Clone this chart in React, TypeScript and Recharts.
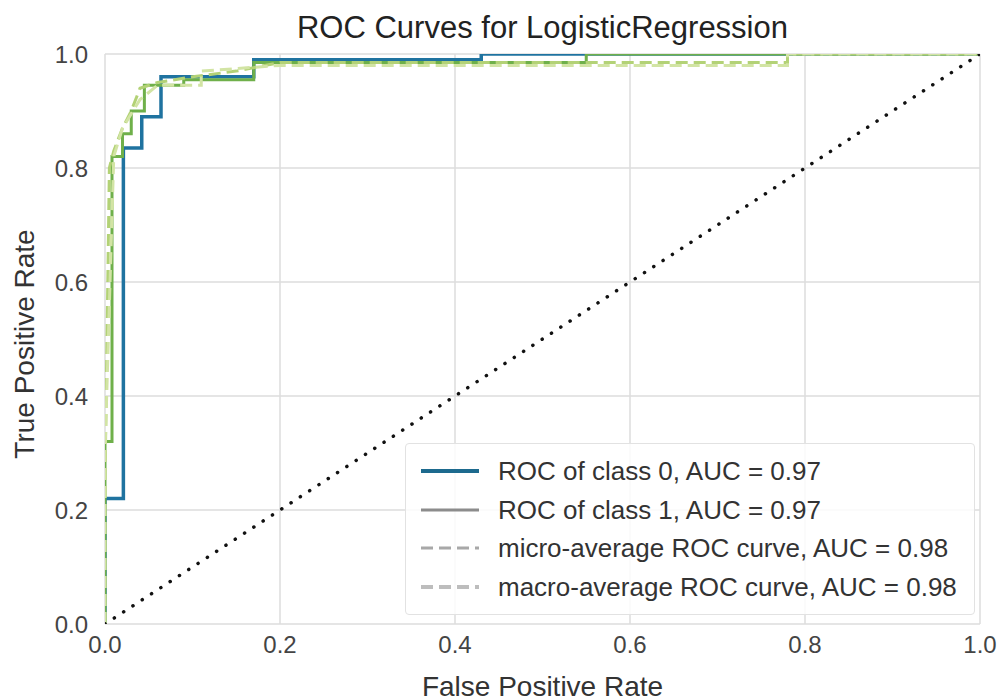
import React from "react";
import {
  LineChart,
  Line,
  XAxis,
  YAxis,
  CartesianGrid,
} from "recharts";

// ROC points (fpr, tpr)
const FPR_CLASS0 = [0, 0, 0.021, 0.021, 0.042, 0.042, 0.064, 0.064, 0.17, 0.17, 0.43, 0.43, 1];
const TPR_CLASS0 = [0, 0.22, 0.22, 0.835, 0.835, 0.89, 0.89, 0.96, 0.96, 0.99, 0.99, 1, 1];

const FPR_CLASS1 = [0, 0, 0.008, 0.008, 0.02, 0.02, 0.03, 0.03, 0.045, 0.045, 0.09, 0.09, 0.17, 0.17, 0.55, 0.55, 1];
const TPR_CLASS1 = [0, 0.32, 0.32, 0.82, 0.82, 0.86, 0.86, 0.9, 0.9, 0.945, 0.945, 0.955, 0.955, 0.985, 0.985, 1, 1];

const FPR_MICRO = [0, 0, 0.005, 0.01, 0.02, 0.03, 0.04, 0.06, 0.1, 0.15, 0.2, 0.78, 0.78, 1];
const TPR_MICRO = [0, 0.25, 0.8, 0.83, 0.87, 0.9, 0.94, 0.95, 0.96, 0.97, 0.985, 0.985, 1, 1];

const FPR_MACRO = [0, 0, 0.01, 0.02, 0.04, 0.06, 0.11, 0.11, 0.2, 0.78, 0.78, 1];
const TPR_MACRO = [0, 0.3, 0.82, 0.87, 0.92, 0.945, 0.945, 0.97, 0.98, 0.98, 1, 1];

const DIAG_X = [0, 1];
const DIAG_Y = [0, 1];

const TICKS = [0, 0.2, 0.4, 0.6, 0.8, 1.0];

const LEGEND = [
  { label: "ROC of class 0, AUC = 0.97", color: "#1d6a8e", dash: undefined, width: 4 },
  { label: "ROC of class 1, AUC = 0.97", color: "#8c8c8c", dash: undefined, width: 3 },
  { label: "micro-average ROC curve, AUC = 0.98", color: "#a8a8a8", dash: "12 6", width: 3 },
  { label: "macro-average ROC curve, AUC = 0.98", color: "#bdbdbd", dash: "12 6", width: 4 },
];

const zip = (xs: number[], ys: number[]) => xs.map((x, i) => ({ fpr: x, tpr: ys[i] }));

const FONT = '"Liberation Sans", Arial, sans-serif';

export default function App() {
  const tickStyle = { fill: "#444", fontSize: 24, fontFamily: FONT };

  return (
    <div
      style={{
        position: "absolute",
        left: 0,
        top: 0,
        width: 1003,
        height: 700,
        background: "#fff",
        fontFamily: FONT,
      }}
    >
      <LineChart
        width={1003}
        height={700}
        margin={{ top: 54, right: 23, bottom: 0, left: 0 }}
      >
        <CartesianGrid stroke="#dcdcdc" strokeWidth={1.5} />
        <XAxis
          type="number"
          dataKey="fpr"
          domain={[0, 1]}
          ticks={TICKS}
          tickFormatter={(v: number) => v.toFixed(1)}
          tick={tickStyle}
          axisLine={false}
          tickLine={false}
          tickSize={0}
          tickMargin={12}
          height={76}
          allowDataOverflow
        />
        <YAxis
          type="number"
          dataKey="tpr"
          domain={[0, 1]}
          ticks={TICKS}
          tickFormatter={(v: number) => v.toFixed(1)}
          tick={tickStyle}
          axisLine={false}
          tickLine={false}
          tickSize={0}
          tickMargin={17}
          width={105}
          allowDataOverflow
        />
        <Line
          data={zip(FPR_CLASS0, TPR_CLASS0)}
          dataKey="tpr"
          type="linear"
          stroke="#1f73a0"
          strokeWidth={3.5}
          dot={false}
          isAnimationActive={false}
        />
        <Line
          data={zip(FPR_CLASS1, TPR_CLASS1)}
          dataKey="tpr"
          type="linear"
          stroke="#6fb04a"
          strokeWidth={3}
          dot={false}
          isAnimationActive={false}
        />
        <Line
          data={zip(FPR_MICRO, TPR_MICRO)}
          dataKey="tpr"
          type="linear"
          stroke="#b3d276"
          strokeWidth={3}
          strokeDasharray="12 6"
          dot={false}
          isAnimationActive={false}
        />
        <Line
          data={zip(FPR_MACRO, TPR_MACRO)}
          dataKey="tpr"
          type="linear"
          stroke="#d2e4a4"
          strokeWidth={3}
          strokeDasharray="12 6"
          dot={false}
          isAnimationActive={false}
        />
        <Line
          data={zip(DIAG_X, DIAG_Y)}
          dataKey="tpr"
          type="linear"
          stroke="#111"
          strokeWidth={3.5}
          strokeDasharray="0.1 11"
          strokeLinecap="round"
          dot={false}
          isAnimationActive={false}
        />
      </LineChart>

      {/* title */}
      <div
        style={{
          position: "absolute",
          left: 105,
          width: 875,
          top: 12,
          textAlign: "center",
          fontSize: 31,
          lineHeight: "32px",
          color: "#222",
        }}
      >
        ROC Curves for LogisticRegression
      </div>

      {/* axis labels */}
      <div
        style={{
          position: "absolute",
          left: 105,
          width: 875,
          top: 672,
          textAlign: "center",
          fontSize: 28,
          lineHeight: "30px",
          color: "#333",
        }}
      >
        False Positive Rate
      </div>
      <div
        style={{
          position: "absolute",
          left: 25 - 200,
          top: 344 - 15,
          width: 400,
          textAlign: "center",
          fontSize: 28,
          lineHeight: "30px",
          color: "#333",
          transform: "rotate(-90deg)",
        }}
      >
        True Positive Rate
      </div>

      {/* legend */}
      <div
        style={{
          position: "absolute",
          left: 405,
          top: 443,
          width: 570,
          height: 172,
          boxSizing: "border-box",
          border: "1px solid #e2e2e2",
          borderRadius: 4,
          background: "rgba(255,255,255,0.85)",
          paddingTop: 8,
        }}
      >
        {LEGEND.map((item) => (
          <div
            key={item.label}
            style={{ display: "flex", alignItems: "center", height: 38.5 }}
          >
            <svg width={92} height={20} style={{ flex: "none" }}>
              <line
                x1={15}
                x2={73}
                y1={10}
                y2={10}
                stroke={item.color}
                strokeWidth={item.width}
                strokeDasharray={item.dash}
              />
            </svg>
            <span style={{ fontSize: 26, lineHeight: "30px", color: "#333", whiteSpace: "nowrap" }}>
              {item.label}
            </span>
          </div>
        ))}
      </div>
    </div>
  );
}
